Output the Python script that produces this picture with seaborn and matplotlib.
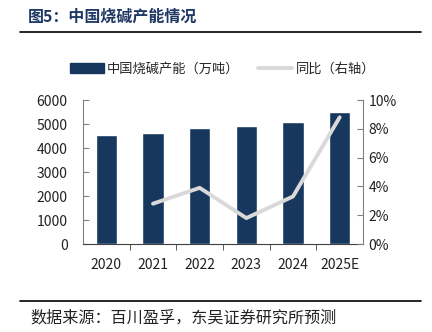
import matplotlib
matplotlib.use("Agg")
import matplotlib.pyplot as plt
import seaborn as sns
import pandas as pd
from matplotlib.lines import Line2D
from matplotlib.patches import Patch
from matplotlib.ticker import FuncFormatter

sns.set_style("white")
plt.rcParams['font.family'] = ['Noto Sans CJK SC', 'DejaVu Sans']

years = ["2020", "2021", "2022", "2023", "2024", "2025E"]
capacity = [4540, 4640, 4830, 4930, 5080, 5500]
growth = [None, 2.8, 3.9, 1.8, 3.3, 8.8]

df = pd.DataFrame({"year": years, "capacity": capacity, "growth": growth})

W, H = 432, 332
fig = plt.figure(figsize=(W / 100, H / 100), dpi=100)
ax = fig.add_axes([83 / W, 1 - 244 / H, (363 - 83) / W, (244 - 100) / H])

bar_color = "#17375E"
line_color = "#D9D9D9"
axis_color = "#808080"

sns.barplot(data=df, x="year", y="capacity", color=bar_color, width=0.46,
            saturation=1, ax=ax)
ax.set_ylim(0, 6000)
ax.set_yticks(range(0, 6001, 1000))
ax.set_xlabel("")
ax.set_ylabel("")
ax.set_xlim(-0.5, 5.5)

ax2 = ax.twinx()
sns.lineplot(data=df.dropna(), x="year", y="growth", color=line_color,
             linewidth=2.8, ax=ax2, sort=False)
ax2.set_ylim(0, 10)
ax2.set_yticks(range(0, 11, 2))
ax2.yaxis.set_major_formatter(FuncFormatter(lambda v, p: f"{int(v)}%"))
ax2.set_ylabel("")
ax2.set_xlim(-0.5, 5.5)

for a in (ax, ax2):
    for s in a.spines.values():
        s.set_visible(False)

ax.spines['left'].set_visible(True)
ax.spines['left'].set_color(axis_color)
ax.spines['bottom'].set_visible(True)
ax.spines['bottom'].set_color("#404040")
ax2.spines['right'].set_visible(True)
ax2.spines['right'].set_color(axis_color)

ax.tick_params(axis='y', direction='in', length=4, color=axis_color,
               labelsize=10, labelcolor="#222222", left=True, pad=11)
ax2.tick_params(axis='y', direction='in', length=4, color=axis_color,
                labelsize=10, labelcolor="#222222", right=True, pad=4)
# x ticks: labels at centers, tick marks between categories
ax.set_xticks(range(len(years)))
ax.set_xticklabels(years)
ax.tick_params(axis='x', length=0, labelsize=10, labelcolor="#222222", pad=10)
ax.set_xticks([i + 0.5 for i in range(len(years) - 1)], minor=True)
ax.tick_params(axis='x', which='minor', direction='out', length=4,
               color="#404040", bottom=True)

fig.legend([Patch(facecolor=bar_color, edgecolor=bar_color)],
           ["中国烧碱产能（万吨）"], loc='center left',
           bbox_to_anchor=(70 / W, 1 - 69 / H), frameon=False,
           fontsize=9.5, handlelength=2.6, handleheight=0.85,
           handletextpad=0.2, borderaxespad=0, borderpad=0)
fig.legend([Line2D([0], [0], color=line_color, linewidth=2.8)],
           ["同比（右轴）"], loc='center left',
           bbox_to_anchor=(258 / W, 1 - 69 / H), frameon=False,
           fontsize=9.5, handlelength=2.6, handletextpad=0.3,
           borderaxespad=0, borderpad=0)

fig.text(28 / W, 1 - 17 / H, "图5：中国烧碱产能情况", fontsize=11.5,
         fontweight='bold', color="#1F3864", va='center', ha='left')
fig.add_artist(Line2D([20 / W, 421 / W], [1 - 32 / H, 1 - 32 / H],
                      color="black", linewidth=1.2))
fig.add_artist(Line2D([20 / W, 421 / W], [1 - 301 / H, 1 - 301 / H],
                      color="black", linewidth=1.2))
fig.text(30 / W, 1 - 318 / H, "数据来源：百川盈孚，东吴证券研究所预测",
         fontsize=11.6, color="#222222", va='center', ha='left')

fig.savefig("out.png", dpi=100)
